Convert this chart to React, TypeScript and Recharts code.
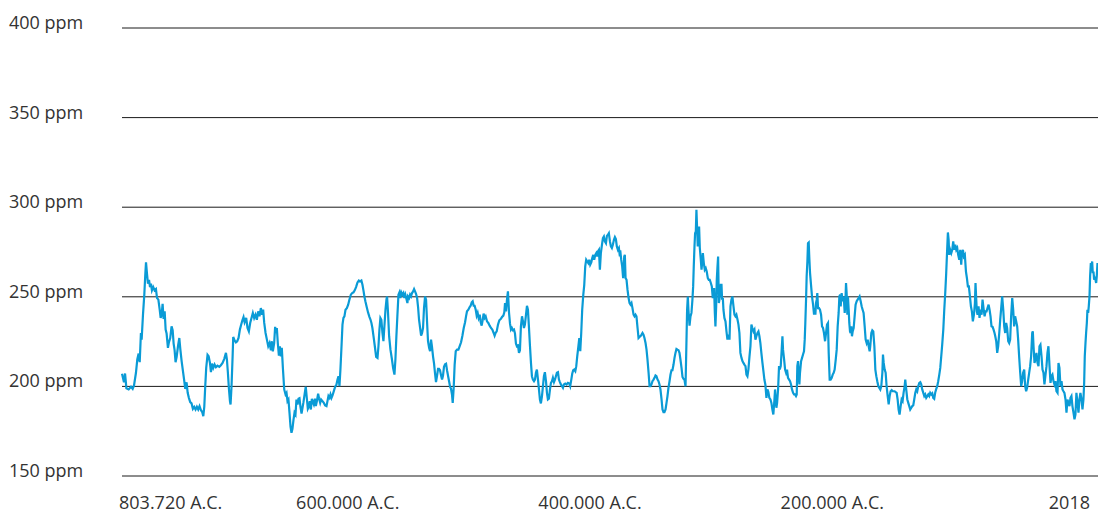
import { LineChart, Line, XAxis, YAxis, CartesianGrid } from 'recharts'

// años en miles (negativo = antes de Cristo), CO2 en ppm
const anios = [
  -803.7, -802.1, -801.2, -800.1, -798.2, -796.3, -794.9, -793.8, -792.2, -791.1, -790.0, -789.1, -788.1, -787.5,
  -786.4, -785.3, -784.5, -783.9, -783.1, -782.3, -781.4, -780.6, -779.8, -779.0, -777.9, -776.8, -775.7, -774.8,
  -773.7, -772.6, -771.8, -771.0, -770.2, -769.4, -768.5, -767.7, -766.9, -765.8, -765.0, -763.9, -762.8, -761.9,
  -761.1, -760.3, -759.5, -758.6, -757.5, -756.4, -755.6, -754.5, -753.4, -752.3, -751.5, -750.4, -749.5, -748.5,
  -747.4, -746.3, -745.2, -744.1, -743.0, -741.9, -740.8, -739.7, -738.6, -737.5, -736.6, -735.8, -735.0, -734.2,
  -733.1, -732.2, -731.1, -730.3, -729.5, -728.4, -727.3, -726.2, -724.9, -723.4, -722.1, -720.7, -719.3, -717.9,
  -717.1, -716.3, -715.5, -714.6, -714.1, -713.3, -712.4, -711.9, -710.8, -709.7, -708.6, -707.5, -706.4, -705.3,
  -704.2, -703.4, -702.5,
  -701.2, -700.1, -699.0, -697.9, -696.8, -695.7, -694.6, -693.5, -692.4, -691.3, -690.2, -689.1, -688.0, -687.2,
  -686.3, -685.2, -684.1, -683.0, -681.9, -680.8, -680.0, -679.2, -678.1, -677.3, -676.4, -675.9, -675.1, -674.2,
  -673.4, -672.6, -671.8, -670.9, -669.8, -668.7, -667.9, -667.1, -666.3, -665.4, -664.6, -663.8, -663.0, -662.1,
  -661.3, -660.5, -659.7, -658.8, -658.0, -657.2, -656.4, -655.5, -654.7, -653.9, -652.8, -652.0, -651.1, -650.3,
  -649.5, -648.7, -647.8, -647.0, -646.2, -645.4, -644.5, -643.7, -642.9, -641.8, -641.0, -640.1, -639.3, -638.2,
  -637.1, -636.0, -634.9, -634.1, -633.3, -632.4, -631.6, -630.8, -630.0, -629.1, -628.3, -627.5, -626.7, -625.8,
  -625.0, -624.2, -623.4, -622.5, -621.7, -620.9, -620.1, -619.2, -618.1, -617.0, -616.0, -614.8, -613.7, -612.6,
  -611.6, -610.5, -609.3, -608.2, -607.2, -606.1, -605.2, -604.4, -603.6, -602.8, -601.7, -600.6, -599.4,
  -598.6, -597.8, -597.0, -596.1, -595.0, -593.9, -592.8, -592.0, -591.2, -590.4, -589.6, -588.7, -587.9, -587.1,
  -586.2, -585.4, -584.9, -584.1, -583.2, -582.1, -581.0, -579.9, -578.8, -578.0, -577.2, -576.4, -575.5, -574.7,
  -573.9, -573.1, -572.2, -571.4, -570.6, -569.8, -568.9, -568.1, -567.6, -566.7, -565.9, -565.1, -564.3, -563.4,
  -562.6, -561.8, -561.0, -560.1, -559.3, -558.5, -557.6, -556.8, -556.0, -555.2, -554.4, -553.5, -552.7, -551.9,
  -551.1, -550.2, -549.4, -548.6, -547.8, -546.9, -546.1, -545.3, -544.5, -543.6, -542.8, -542.0, -541.2, -540.3,
  -539.5, -538.7, -537.9, -537.0, -536.2, -535.4, -534.6, -533.7, -532.9, -532.1, -531.3, -530.7, -529.9, -529.1,
  -528.2, -527.1, -526.0, -525.0, -523.8, -522.7, -521.6, -520.5, -519.7, -518.9, -517.8, -516.7, -515.9, -515.0,
  -514.2, -513.4, -512.6, -511.7, -510.9, -510.1, -509.3, -508.4, -507.6, -506.8, -506.0, -505.2, -504.3, -503.5,
  -502.4, -501.3, -500.2, -499.1, -498.0, -496.9,
  -496.1, -495.3, -494.4, -493.3, -492.2, -491.1, -490.0, -488.9, -488.1, -487.5, -486.7, -485.9, -485.1, -484.2,
  -483.4, -482.6, -481.8, -480.9, -480.1, -479.3, -478.5, -477.7, -476.8, -476.0, -475.2, -474.4, -473.5, -472.7,
  -471.9, -471.1, -470.2, -469.4, -468.6, -467.8, -466.9, -466.1, -465.3, -464.5, -463.6, -462.8, -462.0, -461.2,
  -460.3, -459.5, -458.7, -457.9, -457.0, -456.2, -455.4, -454.6, -453.7, -452.9, -452.1, -451.3, -450.4, -449.6,
  -448.8, -448.0, -447.1, -446.3, -445.5, -444.7, -443.8, -443.0, -442.2, -441.4, -440.5, -439.7, -438.9, -437.8,
  -436.7, -435.6, -434.5, -433.7, -432.8, -432.0, -431.2, -430.4, -429.5, -428.7, -427.9, -427.1, -426.2, -425.4,
  -424.6, -423.8, -422.9, -422.1, -421.3, -420.5, -419.6, -418.8, -418.0, -417.2, -416.3, -415.5, -414.7, -413.9,
  -413.0, -412.2, -411.4, -410.8, -410.0, -409.2, -408.4, -407.5, -406.7, -405.9, -405.1, -404.2, -403.4, -402.6,
  -401.8, -400.9, -400.1, -399.3, -398.5, -397.6, -396.8, -396.0, -395.2, -394.3, -393.5, -392.7,
  -392.4, -391.6, -390.8, -390.0, -389.1, -388.6, -388.0, -387.2, -386.4, -385.5, -384.7, -383.9, -383.1, -382.3,
  -381.4, -380.6, -379.8, -379.0, -378.1, -377.3, -376.5, -375.7, -374.8, -374.0, -373.2, -372.4, -371.5, -370.7,
  -369.9, -369.0, -368.2, -367.4, -366.6, -365.8, -364.9, -364.1, -363.3, -362.5, -361.6, -360.8, -360.0, -359.2,
  -358.3, -357.5, -356.7, -355.9, -355.0, -354.2, -353.4, -352.6, -351.7, -350.9, -350.1, -349.3, -348.4, -347.6,
  -346.8, -346.0, -345.1, -344.3, -343.5, -342.7, -341.8, -341.0, -340.2, -339.4, -338.5, -337.7, -337.2, -336.6,
  -336.1, -335.2, -334.4, -333.6, -332.8, -332.2, -331.7, -331.1, -330.6, -330.0, -329.5, -328.9, -328.4, -327.8,
  -327.3, -326.7, -325.9, -325.3, -324.8, -324.2, -323.4, -322.6, -321.8, -321.0, -320.1, -319.3, -318.5, -317.6,
  -316.8, -316.0, -315.4, -314.9, -314.3, -313.8, -313.2, -312.7, -312.1, -311.6, -311.0, -310.5, -309.9, -309.4,
  -308.8, -308.3, -307.7, -307.2, -306.4, -305.5, -304.7, -303.9, -303.1, -302.2, -301.4, -300.6, -299.8, -298.9,
  -298.1, -297.3, -296.5, -295.6, -294.8, -294.0, -293.2, -292.3, -291.5, -290.7, -289.9,
  -289.0, -288.2, -287.4, -286.6, -285.7, -284.9, -284.1, -283.3, -282.4, -281.6, -280.8, -280.0, -279.1, -278.3,
  -277.5, -276.7, -275.9, -275.0, -274.2, -273.4, -272.6, -271.7, -270.9, -270.1, -269.3, -268.4, -267.6, -266.8,
  -266.0, -265.1, -264.6, -264.0, -263.5, -262.9, -262.1, -261.3, -260.7, -259.9, -259.1, -258.5, -258.0, -257.1,
  -256.3, -255.5, -254.7, -253.9, -253.0, -252.2, -251.4, -250.6, -249.7, -248.9, -248.1, -247.3, -246.7, -246.2,
  -245.6, -245.1, -244.5, -244.0, -243.1, -242.3, -241.5, -240.7, -240.1, -239.6, -239.0, -238.5, -237.9, -237.4,
  -236.8, -236.3, -235.7, -234.9, -234.1, -233.2, -232.4, -231.9, -231.3, -230.8, -230.2, -229.7, -229.1, -228.3,
  -227.5, -226.6, -225.8, -225.0, -224.2, -223.3, -222.5, -221.7, -220.9, -220.3, -219.5, -218.7, -217.8, -217.0,
  -216.2, -215.4, -214.5, -213.7, -212.9, -212.1, -211.5, -210.9, -210.4, -209.6, -208.8, -207.9, -207.1, -206.6,
  -206.0, -205.5, -204.9, -204.4, -203.8, -203.3, -202.7, -202.2, -201.6, -201.1, -200.5, -199.7, -198.9, -198.1,
  -197.2, -196.4, -195.6, -194.8, -193.9, -193.1, -192.3, -191.5, -190.6, -189.8, -189.0, -188.1, -187.3, -186.5,
  -186.0, -185.1, -184.3, -183.5, -182.6, -181.8, -181.0, -180.2, -179.3, -178.5, -177.7, -176.9, -176.0, -175.5,
  -174.9, -174.1, -173.3, -172.5, -171.6, -170.8, -170.0, -169.2, -168.3, -167.5, -166.7, -165.9, -165.0, -164.2,
  -163.4, -162.6, -161.8, -160.9, -160.1, -159.3, -158.5, -157.6, -157.1, -156.3, -155.4, -154.6, -153.8, -153.0,
  -152.1, -151.3, -150.5, -149.7, -148.8, -148.0, -147.2, -146.4, -145.5, -144.7, -143.9, -143.1, -142.2, -141.4,
  -140.6, -139.8, -138.9, -138.1, -137.3, -136.5, -135.6, -134.8, -134.0, -133.2, -132.3, -131.5, -130.7, -129.9,
  -129.0, -128.2, -127.4, -126.6, -125.7, -124.9, -124.1, -123.3, -122.4, -121.9, -121.3, -120.8, -120.0, -119.1,
  -118.3, -117.5, -116.7, -115.8, -115.0, -114.2, -113.4, -112.5, -111.7, -110.9, -110.3, -109.5, -108.7, -107.9,
  -107.0, -106.2, -105.4, -104.6, -103.7, -102.9, -102.1, -101.3, -100.4, -99.6, -99.1, -98.5, -98.0, -97.4,
  -96.6, -95.8, -94.9, -94.1, -93.3, -92.5, -91.6, -90.8, -90.0, -89.2, -88.3, -87.5, -86.7, -85.9, -85.0, -84.2,
  -83.4,
  -82.8, -82.0, -81.2, -80.4, -79.5, -78.7, -77.9, -77.1, -76.2, -75.4, -74.6, -73.8, -73.0, -72.1, -71.3, -70.5,
  -69.7, -68.8, -68.0, -67.2, -66.4, -65.5, -64.7, -63.9, -63.1, -62.2, -61.4, -60.6, -59.8, -58.9, -58.1, -57.3,
  -56.5, -55.6, -54.8, -54.0, -53.2, -52.3, -51.8, -51.2, -50.4, -49.6, -48.8, -47.9, -47.1, -46.3, -45.5, -44.6,
  -43.8, -43.0, -42.2, -41.3, -40.5, -39.7, -38.9, -38.0, -37.2, -36.4, -35.6, -34.7, -33.9, -33.1, -32.3, -31.4,
  -30.6, -29.8, -29.0, -28.1, -27.3, -26.5, -25.7, -24.8, -24.0, -23.2, -22.4, -21.5, -20.7, -19.9, -19.1, -18.2,
  -17.4, -16.6, -15.8, -14.9, -14.1, -13.3, -12.5, -11.6, -10.8, -10.0, -9.4, -8.9, -8.3, -7.8, -7.2, -6.7, -6.1,
  -5.6, -5.0, -4.5, -3.9, -3.4, -2.8, -2.3, -1.7, -1.2, -0.6, -0.1, 0.5, 1.0, 1.6, 2.0,
]

const co2ppm = [
  207, 202.3, 207.2, 199.0, 198.3, 199.8, 198.6, 200.5, 207.6, 215.0, 218.3, 213.5, 229.8, 226.1,
  240.0, 251.2, 262.3, 269.2, 262.9, 257.3, 259.5, 255.4, 257.3, 253.6, 255.4, 253.6, 254.3, 249.3,
  248.4, 242.8, 238.2, 240.0, 246.1, 237.6, 241.9, 231.7, 229.5, 221.5, 224.6, 227.0, 233.5, 231.3,
  223.9, 220.2, 213.5, 216.5, 222.4, 227.0, 220.9, 214.1, 208.5, 202.9, 198.6, 202.3, 196.4, 193.6,
  191.2, 190.5, 187.5, 188.6, 187.1, 188.6, 187.1, 189.0, 186.8, 185.7, 183.4, 188.6, 200.1, 210.3,
  217.6, 216.8, 213.1, 207.9, 212.7, 210.3, 212.2, 210.7, 211.6, 210.9, 211.8, 213.1, 215.4, 218.7,
  215.0, 207.6, 199.2, 191.8, 189.9, 200.1, 216.8, 227.6, 225.7, 224.6, 225.2, 227.0, 231.7, 234.5,
  237.2, 238.7, 235.8,
  238.2, 232.6, 230.7, 235.4, 238.2, 241.0, 238.2, 240.0, 237.2, 241.9, 239.1, 243.7, 240.0, 242.8,
  235.4, 229.8, 226.1, 222.4, 224.2, 220.2, 225.2, 219.6, 224.2, 233.2, 229.8, 232.6, 224.2, 217.2,
  222.4, 216.8, 221.5, 210.3, 198.3, 195.5, 196.4, 191.8, 192.7, 184.9, 177.5, 174.1, 176.4, 181.6,
  185.3, 184.3, 192.7, 189.9, 193.1, 193.4, 188.6, 184.9, 188.1, 191.2, 196.4, 199.8, 193.1, 187.5,
  188.6, 191.8, 187.1, 193.1, 191.2, 189.9, 193.1, 189.0, 191.6, 195.9, 193.1, 190.8, 192.7, 191.8,
  190.8, 189.4, 189.0, 191.8, 194.6, 193.6, 195.5, 193.6, 194.9, 196.8, 198.6, 200.1, 200.9, 203.8,
  205.7, 200.1, 209.4, 222.4, 234.5, 238.2, 239.1, 242.8, 243.7, 245.6, 248.4, 251.2, 252.1, 252.5,
  253.6, 255.4, 258.0, 259.1, 258.6, 259.1, 256.7, 253.6, 250.2, 247.5, 244.3, 241.3, 238.7,
  237.3, 235.4, 232.6, 228.0, 222.4, 216.5, 215.9, 222.4, 231.7, 238.2, 237.2, 229.8, 225.2, 233.5,
  242.8, 248.4, 250.2, 241.0, 228.0, 220.5, 215.7, 210.3, 206.6, 215.0, 228.0, 239.1, 251.2, 252.5,
  249.3, 252.5, 251.2, 252.1, 249.3, 251.2, 248.8, 246.5, 250.2, 249.3, 251.2, 250.2, 252.1, 253.0,
  254.3, 253.0, 251.7, 249.3, 244.3, 237.2, 232.6, 228.3, 229.8, 232.6, 243.7, 250.2, 248.4, 236.3,
  225.2, 221.5, 219.6, 226.1, 222.0, 216.5, 212.7, 207.2, 202.4, 206.1, 209.8, 209.8, 209.0, 206.1,
  203.8, 206.1, 210.9, 212.4, 212.7, 209.0, 206.1, 202.9, 199.8, 198.6, 195.5, 190.8, 199.2, 212.2,
  219.6, 220.5, 220.5, 222.4, 224.6, 228.3, 232.6, 235.8, 239.1, 241.9, 242.8, 244.3, 245.0, 246.9,
  247.5, 245.0, 245.0, 242.8, 239.5, 241.0, 238.2, 240.0, 235.8, 233.9, 236.9, 240.6, 238.2, 239.1,
  236.3, 235.4, 233.9, 232.6, 231.7, 229.8,
  228.3, 229.8, 230.7, 234.5, 236.9, 237.6, 238.7, 239.5, 241.3, 246.5, 241.9, 248.4, 253.0, 241.0,
  235.0, 231.7, 232.6, 231.3, 231.7, 229.5, 223.9, 222.4, 222.8, 218.7, 220.2, 233.5, 239.1, 236.3,
  232.6, 234.5, 240.0, 245.0, 242.8, 233.5, 222.4, 213.1, 205.7, 203.8, 202.9, 203.8, 207.6, 209.4,
  203.8, 198.3, 192.7, 190.5, 194.6, 200.1, 205.7, 207.9, 202.9, 196.4, 192.7, 193.1, 198.3, 202.0,
  202.9, 204.8, 202.4, 203.8, 205.7, 207.6, 207.9, 203.8, 202.4, 201.1, 200.1, 199.2, 201.1, 201.6,
  201.1, 202.0, 201.6, 200.1, 203.8, 207.2, 209.0, 209.4, 208.5, 211.3, 216.8, 221.5, 227.0, 219.6,
  229.8, 242.8, 251.2, 256.7, 267.0, 270.7, 269.7, 268.8, 270.7, 267.9, 269.2, 271.6, 273.4, 270.7,
  273.4, 274.4, 272.5, 275.3, 276.2, 265.1, 274.4, 279.0, 282.7, 283.6, 280.9, 279.9, 284.0, 284.6,
  285.5, 280.9, 278.1, 277.2, 279.0, 281.8, 283.3, 282.2, 278.1, 276.2, 277.2, 272.5,
  275.9, 270.7, 267.0, 260.4, 272.5, 273.4, 260.4, 259.5, 254.0, 249.3, 246.5, 245.6, 246.5, 243.7,
  240.0, 239.1, 240.0, 239.1, 232.6, 227.0, 227.6, 228.0, 228.9, 229.8, 228.9, 227.0, 224.2, 220.5,
  215.0, 207.6, 200.1, 200.1, 201.1, 202.9, 203.8, 204.8, 206.1, 205.7, 203.8, 202.9, 201.1, 198.3,
  192.7, 187.1, 185.7, 185.7, 187.1, 190.8, 194.6, 199.2, 202.9, 206.6, 209.0, 209.0, 212.2, 215.9,
  218.7, 220.9, 220.5, 220.2, 218.7, 215.0, 210.3, 205.3, 204.2, 203.8, 200.1, 226.1, 242.8, 250.2,
  242.8, 233.9, 239.1, 241.0, 248.4, 255.8, 267.0, 278.1, 285.5, 286.4, 298.5, 287.4, 278.1, 281.8,
  289.2, 277.2, 270.7, 265.1, 268.8, 274.4, 268.8, 265.1, 266.0, 264.1, 260.4, 259.5, 259.5, 257.7,
  255.8, 249.3, 252.1, 254.9, 241.0, 233.5, 244.7, 259.5, 267.0, 272.5, 246.5, 248.4, 254.0, 256.7,
  256.7, 248.4, 249.3, 242.8, 238.2, 236.3, 230.7, 226.1, 228.9, 226.1, 244.7, 248.4, 250.2, 244.7,
  240.0, 239.1, 240.0, 237.3, 234.5, 229.8, 218.7, 215.9, 214.1, 213.1, 212.2,
  211.3, 206.6, 205.7, 209.4, 216.8, 222.4, 234.5, 232.6, 230.7, 231.7, 226.1, 228.0, 229.8, 230.7,
  228.0, 224.2, 218.7, 213.1, 208.5, 203.8, 201.1, 193.6, 198.3, 196.8, 193.6, 192.7, 190.8, 187.1,
  184.3, 192.7, 198.3, 192.7, 188.1, 190.8, 198.3, 211.3, 209.4, 211.3, 220.5, 228.0, 220.5, 215.0,
  209.4, 207.6, 209.4, 204.8, 203.8, 202.9, 201.1, 198.3, 196.4, 195.5, 195.5, 194.6, 195.5, 211.3,
  214.1, 207.6, 201.1, 207.6, 214.1, 215.9, 217.8, 219.6, 226.1, 235.4, 248.4, 261.4, 269.7, 279.9,
  280.3, 271.6, 263.2, 256.7, 250.2, 245.6, 240.0, 243.7, 240.0, 246.5, 248.4, 252.1, 243.7, 243.7,
  242.8, 240.0, 233.5, 232.6, 229.8, 225.2, 229.8, 234.5, 235.4, 218.7, 203.8, 203.8, 204.8, 206.6,
  207.6, 209.4, 215.0, 220.5, 233.5, 241.0, 250.2, 251.2, 244.7, 252.1, 247.5, 250.2, 241.0, 245.6,
  257.7, 252.1, 240.0, 250.2, 242.8, 235.4, 230.7, 229.8, 233.5, 228.0, 230.7, 232.6, 239.1, 245.6,
  247.5, 248.4, 249.3, 250.2, 247.5, 244.7, 242.8, 241.0, 233.5, 226.1, 224.2, 226.1, 222.4, 219.6,
  222.4, 229.8, 231.3, 230.7, 222.4, 209.4, 205.7, 202.9, 200.1, 199.2, 198.3, 200.1, 207.6, 217.8,
  213.1, 209.4, 207.6, 200.1, 194.6, 189.9, 194.6, 197.3, 197.9, 197.3, 197.3, 197.3, 196.8, 196.4,
  192.7, 187.1, 184.3, 189.0, 192.7, 191.8, 196.4, 200.1, 203.8, 198.3, 192.7, 190.8, 189.0, 187.1,
  188.1, 189.0, 189.4, 192.7, 196.4, 198.3, 197.3, 200.1, 202.0, 202.4, 201.1, 198.3, 196.4, 194.6,
  195.5, 193.6, 194.6, 195.5, 194.6, 196.4, 195.5, 196.1, 193.6, 193.1, 196.8, 198.6, 200.1, 202.9,
  206.6, 210.3, 216.8, 223.3, 231.7, 242.8, 252.1, 263.2, 278.1, 285.9, 281.8, 273.4, 276.2, 274.4,
  276.2, 280.9, 276.2, 279.0, 276.2, 277.2, 273.4, 270.7, 276.2, 267.9, 274.4, 276.2, 272.5, 273.4,
  264.1, 260.4, 255.8, 255.8, 250.2, 244.7, 241.9, 236.3, 240.0, 246.5, 257.7, 248.4, 241.9, 240.0,
  244.7, 238.2, 242.8, 240.0, 248.4, 243.7, 239.1, 241.9, 241.9, 243.7, 245.6, 242.8, 239.1, 233.5, 233.2, 231.7,
  229.8,
  228.0, 225.2, 218.7, 222.4, 229.8, 237.3, 243.7, 250.2, 242.8, 233.5, 229.8, 235.4, 232.6, 225.2, 224.2, 226.1,
  239.1, 249.3, 242.8, 233.5, 239.1, 236.3, 233.5, 226.1, 216.8, 207.6, 200.1, 202.9, 207.6, 209.4, 200.1, 197.3,
  199.2, 203.8, 207.6, 211.3, 216.8, 229.8, 230.7, 222.4, 213.1, 215.0, 218.7, 213.1, 211.3, 222.4, 223.3, 216.8,
  209.4, 207.6, 201.1, 206.6, 211.3, 218.7, 222.4, 211.3, 202.0, 205.7, 206.6, 202.9, 201.1, 202.9, 197.3, 196.4,
  213.1, 210.3, 200.1, 202.9, 198.3, 197.3, 196.4, 192.7, 185.3, 192.7, 190.8, 189.0, 193.6, 194.6, 189.0, 185.3,
  181.6, 184.3, 196.4, 190.8, 185.3, 192.7, 196.4, 192.7, 187.1, 192.7, 202.0, 216.8, 224.3, 229.8, 235.4, 242.8, 241.0,
  244.7, 250.2, 261.4, 268.8, 266.9, 269.7, 263.2, 264.1, 259.5, 260.4, 259.5, 257.7, 261.4, 268.8, 267,
]

const ticksPpm = [150, 200, 250, 300, 350, 400]
const ticksAnio = [-803.72, -600, -400, -200, 2.018]
const etiquetasAnio = ['803.720 A.C.', '600.000 A.C.', '400.000 A.C.', '200.000 A.C.', '2018']

const datos = anios.map((anio, i) => ({ anio, ppm: co2ppm[i] }))

const FUENTE = '"Open Sans", "Noto Sans", sans-serif'
const COLOR_TEXTO = '#333333'

function TickPpm({ y, payload }: { y?: number; payload?: { value: number } }) {
  return (
    <text x={9} y={(y ?? 0) + 1} fill={COLOR_TEXTO} fontSize={18} fontFamily={FUENTE} textAnchor="start">
      {payload?.value} ppm
    </text>
  )
}

function TickAnio({ x, y, payload, index }: { x?: number; y?: number; payload?: { value: number }; index?: number }) {
  const i = index ?? 0
  const ultimo = i === ticksAnio.length - 1
  const anchor = i === 0 ? 'start' : ultimo ? 'end' : 'middle'
  const dx = i === 0 ? -3 : ultimo ? -8 : -21
  const idx = ticksAnio.indexOf(payload?.value ?? 0)
  return (
    <text x={(x ?? 0) + dx} y={(y ?? 0) + 25} fill={COLOR_TEXTO} fontSize={18} fontFamily={FUENTE} textAnchor={anchor}>
      {etiquetasAnio[idx >= 0 ? idx : i]}
    </text>
  )
}

export default function App() {
  return (
    <div style={{ position: 'absolute', left: 0, top: 0 }}>
      <LineChart width={1098} height={513} data={datos} margin={{ top: 28, right: 0, bottom: 0, left: 0 }}>
        <CartesianGrid vertical={false} stroke="#1a1a1a" strokeWidth={1} />
        <XAxis
          dataKey="anio"
          type="number"
          domain={[-803.72, 2.018]}
          ticks={ticksAnio}
          interval={0}
          axisLine={false}
          tickLine={false}
          height={37}
          tick={<TickAnio />}
        />
        <YAxis
          type="number"
          domain={[150, 400]}
          ticks={ticksPpm}
          interval={0}
          axisLine={false}
          tickLine={false}
          width={122}
          tick={<TickPpm />}
        />
        <Line
          type="linear"
          dataKey="ppm"
          stroke="#0a9bd6"
          strokeWidth={2.2}
          dot={false}
          isAnimationActive={false}
        />
      </LineChart>
    </div>
  )
}
